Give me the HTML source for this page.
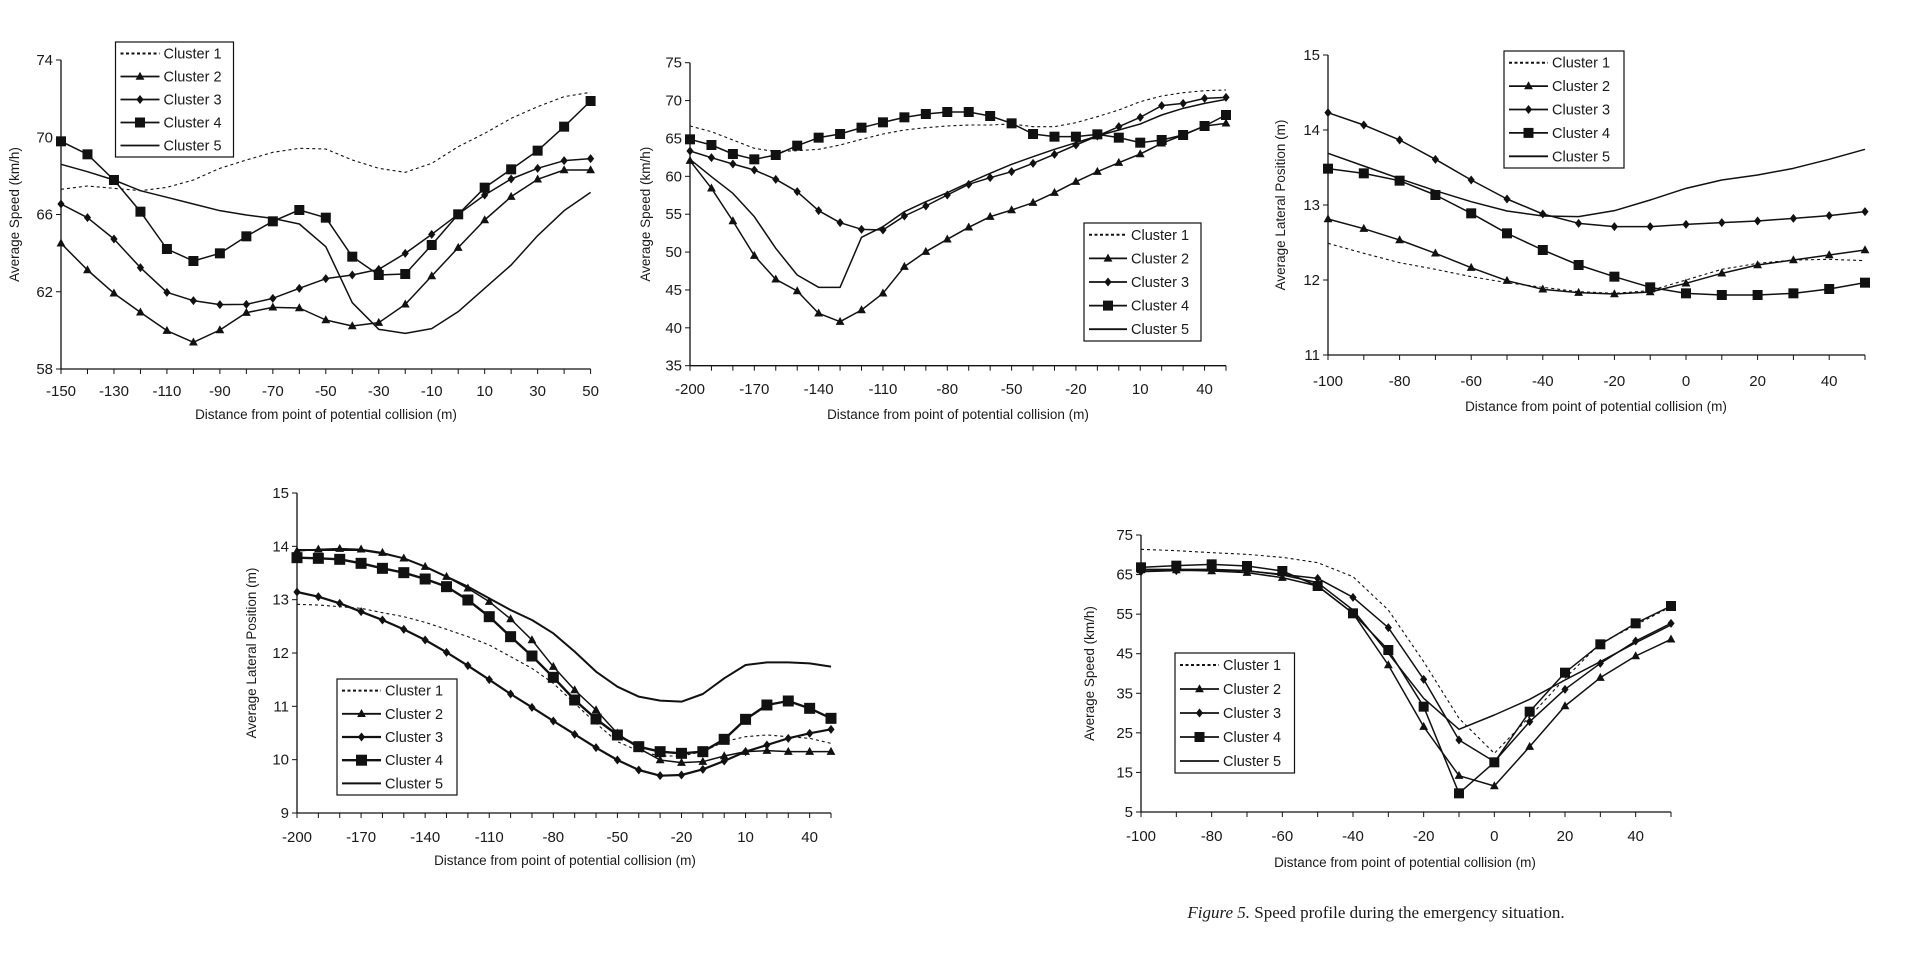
<!DOCTYPE html>
<html><head><meta charset="utf-8">
<style>
html,body{margin:0;padding:0;background:#fff;}
svg{display:block;}
text{font-family:"Liberation Sans",sans-serif;fill:#1a1a1a;}
</style></head>
<body>
<svg id="s" width="1905" height="959" viewBox="0 0 1905 959" xmlns="http://www.w3.org/2000/svg">
<text x="1376" y="918" text-anchor="middle" style="font-family:'Liberation Serif',serif;font-size:17px"><tspan font-style="italic">Figure 5.</tspan> Speed profile during the emergency situation.</text>
</svg>
<script>
const NS="http://www.w3.org/2000/svg";
const svg=document.getElementById('s');
function el(t,a,txt){const e=document.createElementNS(NS,t);for(const k in a)e.setAttribute(k,a[k]);if(txt!==undefined)e.textContent=txt;svg.appendChild(e);return e;}
function marker(type,x,y,s){
 if(type==='tri'){el('polygon',{points:`${x},${y-s*0.6} ${x-s*0.55},${y+s*0.4} ${x+s*0.55},${y+s*0.4}`,fill:'#111'});}
 else if(type==='dia'){const d=s*0.5;el('polygon',{points:`${x},${y-d} ${x+d*0.8},${y} ${x},${y+d} ${x-d*0.8},${y}`,fill:'#111'});}
 else if(type==='sq'){el('rect',{x:x-s/2,y:y-s/2,width:s,height:s,fill:'#111'});}
}
function chart(c){
 const n=c.n;
 el('line',{x1:c.ax,y1:c.yTop,x2:c.ax,y2:c.yBot,stroke:'#111','stroke-width':1.3});
 el('line',{x1:c.ax,y1:c.yBot,x2:c.xEnd,y2:c.yBot,stroke:'#111','stroke-width':1.3});
 const step=(c.xEnd-c.ax)/(n-1);
 for(let i=0;i<n;i++){const x=c.ax+i*step;el('line',{x1:x,y1:c.yBot,x2:x,y2:c.yBot+5,stroke:'#111','stroke-width':1});}
 c.xl.forEach((l,j)=>{const x=c.ax+j*c.xlEvery*step;el('text',{x:x,y:c.xlY,'text-anchor':'middle','font-size':15},l);});
 const ny=c.yl.length;
 c.yl.forEach((l,j)=>{const y=c.yTop+j*(c.yBot-c.yTop)/(ny-1);el('line',{x1:c.ax-5,y1:y,x2:c.ax,y2:y,stroke:'#111','stroke-width':1});el('text',{x:c.ax-8,y:y+5,'text-anchor':'end','font-size':15},l);});
 el('text',{x:c.xlabX,y:c.xlabelY,'text-anchor':'middle','font-size':13.5},'Distance from point of potential collision (m)');
 const yc=(c.yTop+c.yBot)/2;
 el('text',{x:c.ylabX,y:yc,'text-anchor':'middle','font-size':13.5,transform:`rotate(-90 ${c.ylabX} ${yc})`},c.ylab);
 c.series.forEach(s=>{
  const pts=s.ys.map((yd,i)=>[c.ax+i*(c.xEnd-c.ax)/(s.ys.length-1),c.oy+yd/3]);
  const a={points:pts.map(p=>p.join(',')).join(' '),fill:'none',stroke:'#111','stroke-width':s.w||1.5,'stroke-linejoin':'round'};
  if(s.dash)a['stroke-dasharray']=s.dash;
  el('polyline',a);
  if(s.m)pts.forEach(p=>marker(s.m,p[0],p[1],s.ms||8));
 });
 const L=c.leg;
 el('rect',{x:L.x,y:L.y,width:L.w,height:L.h,fill:'#fff',stroke:'#111','stroke-width':1.2});
 const rh=L.h/5;
 c.series.forEach((s,i)=>{
  const y=L.y+rh*(i+0.5);
  const a={x1:L.x+5,y1:y,x2:L.x+L.lw,y2:y,stroke:'#111','stroke-width':s.dash?2:(s.w||1.8)};
  if(s.dash)a['stroke-dasharray']='3,2.5';
  el('line',a);
  if(s.m)marker(s.m,L.x+5+(L.lw-5)/2,y,s.ms||8);
  el('text',{x:L.x+L.lw+4,y:y+5,'font-size':14.5},'Cluster '+(i+1));
 });
}
chart({ax:61,xEnd:590.6,yTop:60,yBot:369,n:21,oy:0,
 xl:['-150','-130','-110','-90','-70','-50','-30','-10','10','30','50'],xlEvery:2,xlY:396,
 yl:['74','70','66','62','58'],xlabX:326,xlabelY:419,ylabX:19,ylab:'Average Speed (km/h)',
 leg:{x:115.5,y:42,w:118,h:115,lw:44},
 series:[
 {dash:'3,3',w:1.1,ys:[568,558,565,572,562,540,505,480,457,445,447,480,505,517,490,440,400,355,320,290,277]},
 {m:'tri',ys:[730,810,880,937,992,1027,990,938,922,924,960,978,968,913,828,743,660,590,538,510,510]},
 {m:'dia',ms:9,ys:[612,653,717,803,877,902,914,913,895,865,836,825,808,760,703,643,585,537,505,482,476]},
 {m:'sq',ms:10,ys:[424,463,540,635,747,783,760,709,664,630,653,770,825,822,735,643,563,508,452,380,303]},
 {ys:[493,515,540,572,592,612,632,645,655,672,740,908,988,1000,986,935,865,795,707,632,577]}
 ]});
chart({ax:690,xEnd:1226,yTop:62.7,yBot:365.7,n:26,oy:0,
 xl:['-200','-170','-140','-110','-80','-50','-20','10','40'],xlEvery:3,xlY:394,
 yl:['75','70','65','60','55','50','45','40','35'],xlabX:958,xlabelY:419,ylabX:650,ylab:'Average Speed (km/h)',
 leg:{x:1084,y:223,w:117,h:118,lw:43},
 series:[
 {dash:'3,3',w:1.1,ys:[378,395,420,445,455,452,448,435,418,402,390,383,378,375,375,372,380,380,368,350,330,305,288,278,272,270]},
 {m:'tri',ys:[482,565,663,767,838,873,940,965,930,880,800,755,718,682,650,630,608,578,545,515,488,462,430,405,378,370]},
 {m:'dia',ms:9,ys:[453,473,492,510,538,575,632,668,688,690,648,618,585,553,533,515,490,463,435,408,380,352,317,310,295,292]},
 {m:'sq',ms:10,ys:[418,435,462,478,465,437,413,402,383,367,352,342,336,336,348,370,402,410,410,403,413,428,420,405,378,345]},
 {ys:[478,530,580,650,745,825,862,862,712,680,635,605,578,548,520,493,470,448,428,408,390,372,345,325,310,298]}
 ]});
chart({ax:1328,xEnd:1865,yTop:55,yBot:355,n:16,oy:0,
 xl:['-100','-80','-60','-40','-20','0','20','40'],xlEvery:2,xlY:386,
 yl:['15','14','13','12','11'],xlabX:1596,xlabelY:411,ylabX:1285,ylab:'Average Lateral Position (m)',
 leg:{x:1504,y:51,w:120,h:117,lw:44},
 series:[
 {dash:'3,3',w:1.1,ys:[730,760,788,808,830,848,862,875,880,872,840,808,790,780,778,782]},
 {m:'tri',ys:[657,686,720,760,803,842,868,878,882,876,850,820,795,780,765,750]},
 {m:'dia',ms:9,ys:[338,375,420,478,540,597,642,670,680,680,673,668,663,655,647,635]},
 {m:'sq',ms:10,ys:[506,520,542,585,640,700,750,795,830,862,880,885,885,880,867,848]},
 {ys:[460,498,536,572,605,633,648,650,632,600,565,540,525,505,478,448]}
 ]});
chart({ax:297,xEnd:831,yTop:493,yBot:813,n:26,oy:470,
 xl:['-200','-170','-140','-110','-80','-50','-20','10','40'],xlEvery:3,xlY:842,
 yl:['15','14','13','12','11','10','9'],xlabX:565,xlabelY:865,ylabX:256,ylab:'Average Lateral Position (m)',
 leg:{x:337,y:679,w:120,h:116,lw:44},
 series:[
 {dash:'3,3',w:1.1,ys:[403,405,410,415,428,440,457,478,500,525,560,595,640,700,760,815,843,858,858,845,815,800,795,800,805,820]},
 {m:'tri',ys:[243,238,236,238,248,265,290,320,355,395,447,510,590,660,720,790,835,870,878,875,858,845,842,845,845,845]},
 {m:'dia',ms:9,w:2.2,ys:[366,380,400,425,450,478,510,547,587,629,672,712,753,793,833,870,900,917,915,898,873,845,825,805,790,778]},
 {m:'sq',ms:11,w:2.4,ys:[263,265,268,280,295,308,327,350,390,440,500,558,622,690,747,795,830,845,850,845,808,748,705,693,715,745]},
 {w:2,ys:[240,240,240,240,250,265,290,320,350,385,420,450,490,545,605,650,680,692,695,672,625,585,577,577,580,590]}
 ]});
chart({ax:1141,xEnd:1671,yTop:535,yBot:812,n:16,oy:510,
 xl:['-100','-80','-60','-40','-20','0','20','40'],xlEvery:2,xlY:841,
 yl:['75','65','55','45','35','25','15','5'],xlabX:1405,xlabelY:867,ylabX:1094,ylab:'Average Speed (km/h)',
 leg:{x:1175,y:653,w:119.5,h:120,lw:44},
 series:[
 {dash:'3,3',w:1.1,ys:[118,122,128,133,142,158,200,300,455,625,730,620,505,400,345,290]},
 {m:'tri',ys:[180,180,183,188,203,228,310,465,650,797,828,710,588,503,438,388]},
 {m:'dia',ms:9,ys:[185,182,180,183,193,205,262,353,508,690,755,635,538,460,393,340]},
 {m:'sq',ms:10,ys:[172,167,163,168,183,228,310,420,590,850,757,605,488,403,340,288]},
 {ys:[178,178,178,182,195,218,300,430,565,658,615,568,510,455,398,345]}
 ]});
</script>
</body></html>
